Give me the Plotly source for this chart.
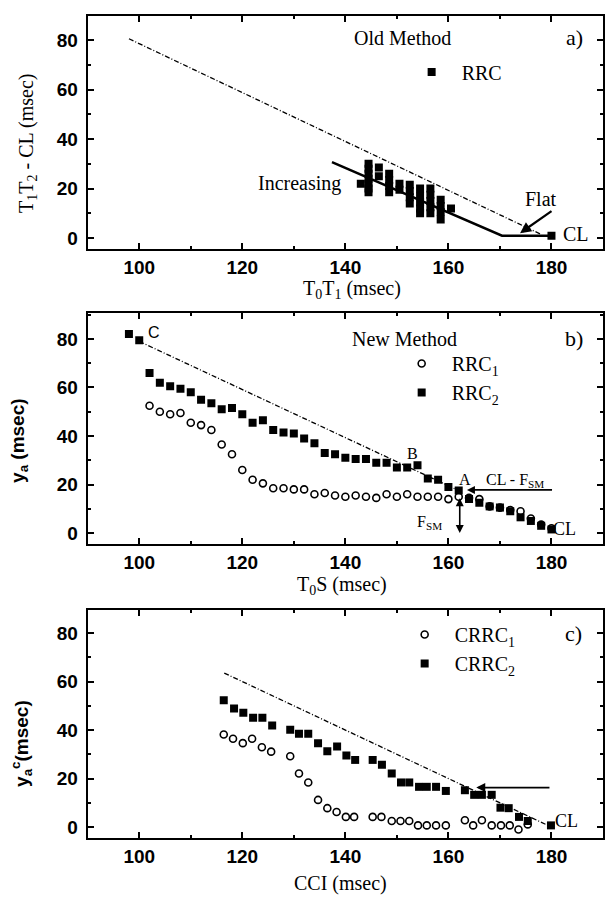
import plotly.graph_objects as go

W, H = 605, 897

# ---------------- data ----------------
# panel a (old method) RRC
a_x = [143,
       144.5, 144.5, 144.5, 144.5, 144.5, 144.5, 144.5,
       146.5, 146.5,
       148.5, 148.5, 148.5, 148.5,
       150.5, 150.5,
       152.5, 152.5, 152.5, 152.5,
       154.5, 154.5, 154.5, 154.5, 154.5,
       156.5, 156.5, 156.5, 156.5, 156.5,
       158.5, 158.5, 158.5, 158.5,
       160.5, 180]
a_y = [22,
       30, 28, 26, 24, 22, 20, 18.5,
       28.5, 25,
       26, 23.5, 21, 18.5,
       22, 19.5,
       21.5, 19, 16.5, 14,
       20, 17, 14.5, 12, 10,
       20, 17.5, 15, 12.5, 10,
       15.5, 13, 10.5, 7.5,
       12, 1]
a_diag_x = [98, 178]
a_diag_y = [80.5, 1.5]
a_model_x = [137.4, 170.4, 180]
a_model_y = [30.7, 1, 1]

# panel b (new method)
b_rrc2_x = list(range(98, 181, 2))
b_rrc2_y = [82, 79.5, 66, 62, 60.5, 59.5, 58, 55, 53.5, 51, 51.5, 49, 45.5, 46.5,
            42.5, 41.5, 41, 39, 37, 33, 32.5, 31, 30.5, 30.5, 29, 29, 27, 27, 28,
            22.5, 22, 19, 17.5, 14, 12.5, 11, 10.5, 9, 6.5, 5, 3, 1.5]
b_rrc1_x = list(range(102, 181, 2))
b_rrc1_y = [52.5, 50, 49, 49.5, 45.5, 44.5, 42.5, 36.5, 32.5, 26, 22, 20.5, 18.5,
            18.5, 18, 18, 16, 16.5, 15.5, 15, 15.5, 15, 14.5, 16, 15, 16, 15, 15,
            15, 14, 15, 14.5, 14, 11, 10.5, 9.5, 9, 6, 3.5, 2]
b_diag_x = [100, 162]
b_diag_y = [79, 17.5]

# panel c (CRRC)
c_crrc2_x = [116.4, 118.4, 120.2, 122.1, 123.9, 125.8, 129.3, 131, 132.8, 134.7,
             136.5, 138.4, 140.2, 141.9, 145.3, 147.1, 149, 150.8, 152.4, 154.3,
             155.8, 157.6, 159.5, 163.2, 165, 166.5, 168.4, 170.1, 171.7, 173.7,
             175.4, 179.9]
c_crrc2_y = [52.3, 48.9, 47.1, 45.1, 45.1, 41.9, 40.1, 38.5, 38.5, 34.6,
             31.3, 33.2, 29.5, 27.7, 27.7, 25.7, 22.1, 18.4, 18.4, 16.6,
             16.6, 16.6, 14.9, 15.2, 13.3, 13.3, 13.3, 8, 7.8, 4.2,
             2.5, 0.7]
c_crrc1_x = [116.4, 118.2, 120.1, 121.9, 123.8, 125.6, 129.3, 131, 132.8, 134.7,
             136.5, 138.3, 140.1, 141.7, 145.3, 147, 149, 150.7, 152.4, 154.1,
             155.8, 157.6, 159.5, 163.2, 164.8, 166.5, 168.4, 170.2, 171.9, 173.6,
             175.4]
c_crrc1_y = [38.2, 36.4, 34.6, 36.4, 32.9, 31.1, 29.2, 22.1, 18.4, 11.2,
             7.8, 6.2, 4.2, 4.2, 4.2, 4.2, 2.5, 2.5, 2.5, 0.7,
             0.7, 0.7, 0.7, 2.8, 0.7, 2.8, 0.7, 0.7, 0.7, -1,
             1.1]
c_diag_x = [116.5, 179]
c_diag_y = [63.5, 1]

# ---------------- styling ----------------
SERIF = "Liberation Serif"
SANS = "Liberation Sans"
BLACK = "black"
DASH = "5px,2px,1px,2px"

sq = dict(symbol="square", size=8, color=BLACK)
circ = dict(symbol="circle-open", size=7, color=BLACK, line=dict(width=1.6, color=BLACK))

fig = go.Figure()

# panel a
fig.add_trace(go.Scatter(x=a_diag_x, y=a_diag_y, mode="lines", xaxis="x", yaxis="y",
                         line=dict(color=BLACK, width=1.3, dash=DASH), showlegend=False))
fig.add_trace(go.Scatter(x=a_model_x, y=a_model_y, mode="lines", xaxis="x", yaxis="y",
                         line=dict(color=BLACK, width=2.5), showlegend=False))
fig.add_trace(go.Scatter(x=a_x, y=a_y, mode="markers", xaxis="x", yaxis="y",
                         marker=sq, name="  RRC", legend="legend"))

# panel b
fig.add_trace(go.Scatter(x=b_diag_x, y=b_diag_y, mode="lines", xaxis="x2", yaxis="y2",
                         line=dict(color=BLACK, width=1.3, dash=DASH), showlegend=False))
fig.add_trace(go.Scatter(x=b_rrc1_x, y=b_rrc1_y, mode="markers", xaxis="x2", yaxis="y2",
                         marker=circ, name="  RRC<sub>1</sub>", legend="legend2"))
fig.add_trace(go.Scatter(x=b_rrc2_x, y=b_rrc2_y, mode="markers", xaxis="x2", yaxis="y2",
                         marker=sq, name="  RRC<sub>2</sub>", legend="legend2"))

# panel c
fig.add_trace(go.Scatter(x=c_diag_x, y=c_diag_y, mode="lines", xaxis="x3", yaxis="y3",
                         line=dict(color=BLACK, width=1.3, dash=DASH), showlegend=False))
fig.add_trace(go.Scatter(x=c_crrc1_x, y=c_crrc1_y, mode="markers", xaxis="x3", yaxis="y3",
                         marker=circ, name="  CRRC<sub>1</sub>", legend="legend3"))
fig.add_trace(go.Scatter(x=c_crrc2_x, y=c_crrc2_y, mode="markers", xaxis="x3", yaxis="y3",
                         marker=sq, name="  CRRC<sub>2</sub>", legend="legend3"))


def ydom(top, bottom):
    return [1 - bottom / H, 1 - top / H]


TICKFONT = dict(family=SANS, size=19, color=BLACK, weight="bold")


def xaxis(anchor):
    return dict(range=[90, 190], dtick=20, tick0=0, ticks="inside", ticklen=6,
                tickwidth=1.5, tickcolor=BLACK, showline=True, linecolor=BLACK,
                linewidth=2, mirror="allticks", showgrid=False, zeroline=False,
                tickfont=TICKFONT,
                minor=dict(dtick=10, ticks="inside", ticklen=3, tickcolor=BLACK, tickwidth=1.5),
                domain=[88 / W, 1], anchor=anchor)


def yaxis(anchor, rng, dom):
    return dict(range=rng, dtick=20, tick0=0, ticks="inside", ticklen=6,
                tickwidth=1.5, tickcolor=BLACK, showline=True, linecolor=BLACK,
                linewidth=2, mirror="allticks", showgrid=False, zeroline=False,
                tickfont=TICKFONT, ticklabelstandoff=4,
                minor=dict(dtick=10, ticks="inside", ticklen=3, tickcolor=BLACK, tickwidth=1.5),
                domain=dom, anchor=anchor)


def legend_at(xpx, ypx):
    return dict(x=xpx / W, y=1 - ypx / H, xanchor="left", yanchor="middle",
                font=dict(family=SERIF, size=20, color=BLACK),
                bgcolor="rgba(0,0,0,0)", borderwidth=0, tracegroupgap=0)


def txt(x, y, text, xr, yr, size=20, fam=SERIF, **kw):
    d = dict(x=x, y=y, text=text, xref=xr, yref=yr, showarrow=False,
             font=dict(family=fam, size=size, color=BLACK))
    d.update(kw)
    return d


def arrow(x, y, ax, ay, xr, yr, **kw):
    d = dict(x=x, y=y, ax=ax, ay=ay, xref=xr, yref=yr, axref=xr, ayref=yr,
             text="", showarrow=True, arrowhead=2, arrowsize=1, arrowwidth=1.8,
             arrowcolor=BLACK)
    d.update(kw)
    return d


def ptxt(xpx, ypx, text, size=20, fam=SERIF, angle=0, weight="normal"):
    return dict(x=xpx / W, y=1 - ypx / H, text=text, xref="paper", yref="paper",
                showarrow=False, textangle=angle, xanchor="center", yanchor="middle",
                font=dict(family=fam, size=size, color=BLACK, weight=weight))


annotations = [
    # panel a
    txt(151, 80.7, "Old Method", "x", "y"),
    txt(184.4, 81, "a)", "x", "y", size=22),
    txt(139.6, 21.9, "Increasing", "x", "y", xanchor="right"),
    txt(178, 15.6, "Flat", "x", "y"),
    txt(184.8, 1.5, "CL", "x", "y"),
    arrow(173.9, 2.0, 180.3, 11.3, "x", "y", arrowwidth=2.2),
    # panel b
    txt(151.5, 80, "New Method", "x2", "y2"),
    txt(184.4, 80, "b)", "x2", "y2", size=22),
    txt(102.8, 82.5, "C", "x2", "y2", size=16, fam=SANS),
    txt(153, 32.6, "B", "x2", "y2", size=16),
    txt(163.3, 22, "A", "x2", "y2", size=16),
    txt(173, 21.6, "CL - F<sub>SM</sub>", "x2", "y2", size=16),
    arrow(163.6, 17.8, 180.4, 17.8, "x2", "y2", arrowwidth=1.6),
    arrow(162.2, 0, 162.2, 15, "x2", "y2", arrowwidth=1.6, arrowside="end+start"),
    txt(156.3, 4.5, "F<sub>SM</sub>", "x2", "y2", size=16),
    txt(182.6, 1.8, "CL", "x2", "y2", size=18),
    # panel c
    txt(184.3, 80, "c)", "x3", "y3", size=22),
    arrow(165.4, 16.3, 179.9, 16.3, "x3", "y3", arrowwidth=1.8),
    txt(183, 2.5, "CL", "x3", "y3", size=18),
    # axis titles
    ptxt(353, 289, "T<sub>0</sub>T<sub>1</sub> (msec)"),
    ptxt(343, 585, "T<sub>0</sub>S (msec)"),
    ptxt(342, 883, "CCI (msec)"),
    ptxt(27, 143, "T<sub>1</sub>T<sub>2</sub> - CL (msec)", size=20, angle=-90),
    ptxt(19, 440, "y<sub>a</sub> (msec)", size=19, fam=SANS, angle=-90, weight="bold"),
    ptxt(21, 743, "y<sub>a</sub><sup>c</sup>(msec)", size=19, fam=SANS, angle=-90, weight="bold"),
]

fig.update_layout(
    width=W, height=H, margin=dict(l=0, r=0, t=0, b=0),
    paper_bgcolor="white", plot_bgcolor="white",
    xaxis=xaxis("y"), yaxis=yaxis("x", [-4.4, 89.7], ydom(16, 249)),
    xaxis2=xaxis("y2"), yaxis2=yaxis("x2", [-4.5, 90.7], ydom(313, 544)),
    xaxis3=xaxis("y3"), yaxis3=yaxis("x3", [-4.5, 89.5], ydom(610, 838)),
    legend=legend_at(413, 72),
    legend2=legend_at(403, 378),
    legend3=legend_at(406, 649),
    annotations=annotations,
    showlegend=True,
)

fig.write_html("out.html")
